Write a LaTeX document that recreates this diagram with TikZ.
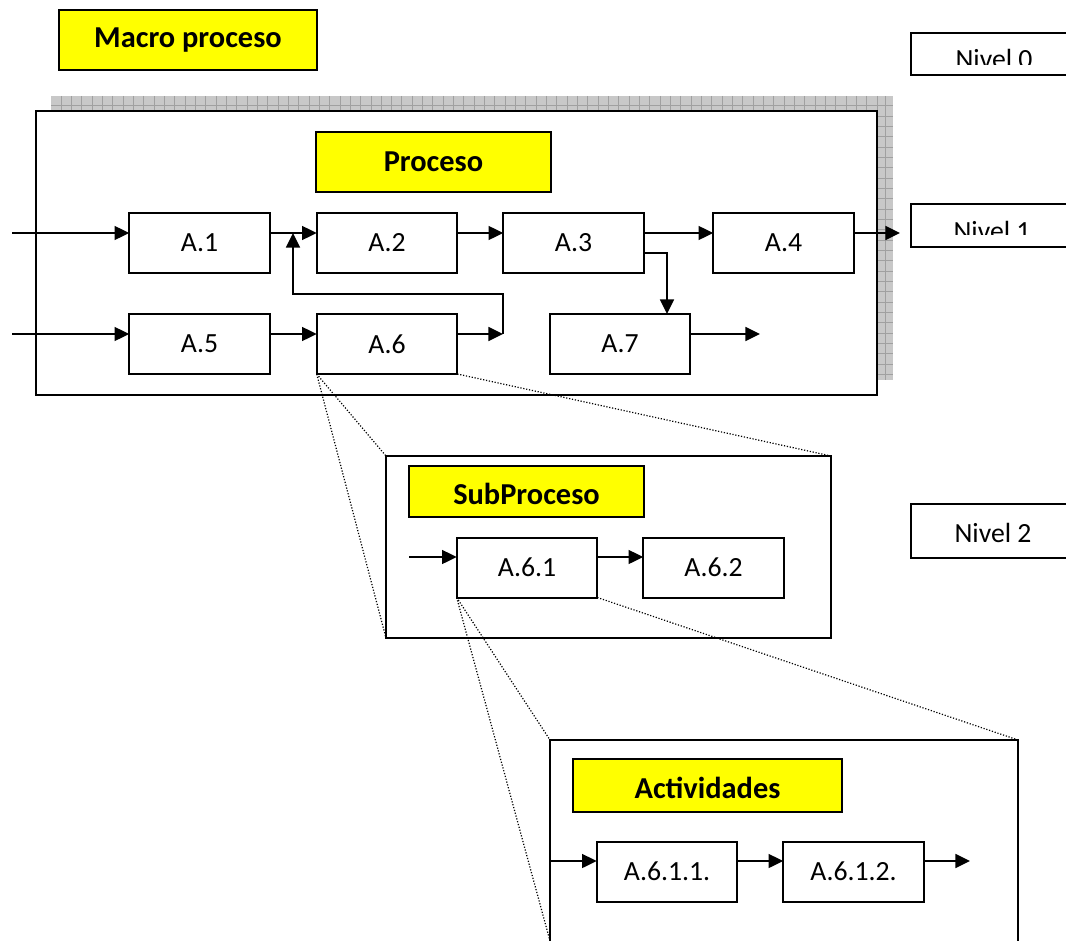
\documentclass[tikz,border=0pt]{standalone}
\usepackage{fontspec}
\setmainfont{Carlito}
\usetikzlibrary{arrows.meta}
\definecolor{shadowgray}{RGB}{200,200,200}
\definecolor{shadowline}{RGB}{160,160,160}
\definecolor{lblyellow}{RGB}{255,255,0}
\begin{document}
\begin{tikzpicture}[x=0.75pt,y=-0.75pt,
  every node/.style={inner sep=0pt, outer sep=0pt},
  stepbox/.style={draw, line width=1.5pt, fill=white, minimum width=105.5pt, minimum height=45pt,
    font=\fontsize{20.8pt}{24pt}\selectfont},
  titlebox/.style={draw, line width=1.5pt, fill=lblyellow,
    font=\fontsize{22.8pt}{26pt}\selectfont\bfseries},
  lowtext/.style={text height=16pt, text depth=5pt},
  framebox/.style={draw, line width=1.5pt, fill=white},
  frameline/.style={line width=1.5pt},
  arr/.style={line width=1.25pt, -{Triangle[length=11pt,width=10.5pt]}},
  zoomline/.style={line width=0.9pt, dash pattern=on 0.9pt off 1.3pt},
  lvl/.style={font=\fontsize{20.8pt}{24pt}\selectfont},
  gridline/.style={draw=shadowline, line width=0.6pt}
]
\useasboundingbox (0,0) rectangle (1066,941);

% reference rows
\coordinate (r1) at (0,233);
\coordinate (r2) at (0,334);
\coordinate (r3) at (0,557);
\coordinate (r4) at (0,861);

% Macro proceso
\node[titlebox, minimum width=193.5pt, minimum height=45pt] (macro) at (188,40) {Macro proceso};

% level boxes (open to the right)
\draw[frameline] (1070,33) -- (911,33) -- (911,75) -- (1070,75);
\begin{scope}
  \clip (911,33) rectangle (1066,65);
  \node[lvl, anchor=base] (nivel0) at (994,69) {Nivel 0};
\end{scope}
\draw[frameline] (1070,204) -- (911,204) -- (911,247) -- (1070,247);
\begin{scope}
  \clip (911,204) rectangle (1066,235);
  \node[lvl, anchor=base] (nivel1) at (992,240) {Nivel 1};
\end{scope}
\draw[frameline] (1070,504) -- (911,504) -- (911,558) -- (1070,558);
\node[lvl, anchor=base] (nivel2) at (993,542) {Nivel 2};

% shadow with grid (top band and right strip)
\fill[shadowgray] (51,96) rectangle (893,112);
\fill[shadowgray] (876,96) rectangle (893,380);
\foreach \x in {61,71.33,...,880} \draw[gridline] (\x,96) -- (\x,112);
\draw[gridline] (885.5,96) -- (885.5,380);
\draw[gridline] (51,105.7) -- (893,105.7);
\foreach \y in {116,126.33,...,380} \draw[gridline] (876,\y) -- (893,\y);

% Proceso frame
\node[framebox, minimum width=630.75pt, minimum height=213pt] (proc) at (456.5,253) {};
\node[titlebox, minimum width=176.25pt, minimum height=45pt] (proclbl) at (433.5,162) {Proceso};

\node[stepbox] (a1) at (199.5,243) {A.1};
\node[stepbox] (a2) at (387,243) {A.2};
\node[stepbox] (a3) at (573.5,243) {A.3};
\node[stepbox] (a4) at (783.5,243) {A.4};
\node[stepbox] (a5) at (199.5,344) {A.5};
\node[stepbox] (a6) at (387,344) {A.6};
\node[stepbox] (a7) at (620,344) {A.7};

\coordinate (in1) at (12,233);
\coordinate (in2) at (12,334);
\coordinate (out4) at (900,233);
\coordinate (out7) at (760,334);
\coordinate (j6) at (503,334);
\coordinate (fbtop) at (503,294);
\coordinate (fbleft) at (293,294);
\coordinate (fbend) at (293,233);
\coordinate (br3) at (667,253);

\draw[arr] (in1) -- (in1 -| a1.west);
\draw[arr] (in2) -- (in2 -| a5.west);
\draw[arr] (a1.east |- r1) -- (a2.west |- r1);
\draw[arr] (a2.east |- r1) -- (a3.west |- r1);
\draw[arr] (a3.east |- r1) -- (a4.west |- r1);
\draw[arr] (a4.east |- r1) -- (out4);
\draw[arr] (a3.east |- br3) -- (br3) -- (br3 |- a7.north);
\draw[arr] (a7.east |- r2) -- (out7);
\draw[arr] (a5.east |- r2) -- (a6.west |- r2);
\draw[arr] (a6.east |- r2) -- (j6);
\draw[arr] (j6) -- (fbtop) -- (fbleft) -- (fbend);

% SubProceso
\node[framebox, minimum width=333.75pt, minimum height=136.5pt] (sub) at (608.5,547) {};
\node[titlebox, lowtext, minimum width=176.25pt, minimum height=38.25pt] (sublbl) at (526.5,491.5) {\raisebox{-4pt}{SubProceso}};
\node[stepbox] (a61) at (527,567.5) {A.6.1};
\node[stepbox] (a62) at (713.5,567.5) {A.6.2};
\coordinate (in3) at (409,557);
\draw[arr] (in3) -- (in3 -| a61.west);
\draw[arr] (a61.east |- r3) -- (a62.west |- r3);

% Actividades (frame open at bottom)
\coordinate (actbl) at (550,941);
\coordinate (acttl) at (550,740);
\coordinate (acttr) at (1018,740);
\coordinate (actbr) at (1018,941);
\fill[white] (actbl) -- (acttl) -- (acttr) -- (actbr) -- cycle;
\draw[frameline] (550,945) -- (acttl) -- (acttr) -- (1018,945);
\node[titlebox, lowtext, minimum width=201.75pt, minimum height=39.75pt] (actlbl) at (707.5,785.5) {\raisebox{-4pt}{Actividades}};
\node[stepbox] (a611) at (667,871.5) {A.6.1.1.};
\node[stepbox] (a612) at (853.5,871.5) {A.6.1.2.};
\coordinate (in4) at (550,861);
\coordinate (out612) at (970,861);
\draw[arr] (in4) -- (in4 -| a611.west);
\draw[arr] (a611.east |- r4) -- (a612.west |- r4);
\draw[arr] (a612.east |- r4) -- (out612);

% zoom lines
\draw[zoomline] (a6.south west) -- (sub.north west);
\draw[zoomline] (a6.south west) -- (sub.south west);
\draw[zoomline] (a6.south east) -- (sub.north east);
\draw[zoomline] (a61.south west) -- (acttl);
\draw[zoomline] (a61.south west) -- (actbl);
\draw[zoomline] (a61.south east) -- (acttr);
\end{tikzpicture}
\end{document}
